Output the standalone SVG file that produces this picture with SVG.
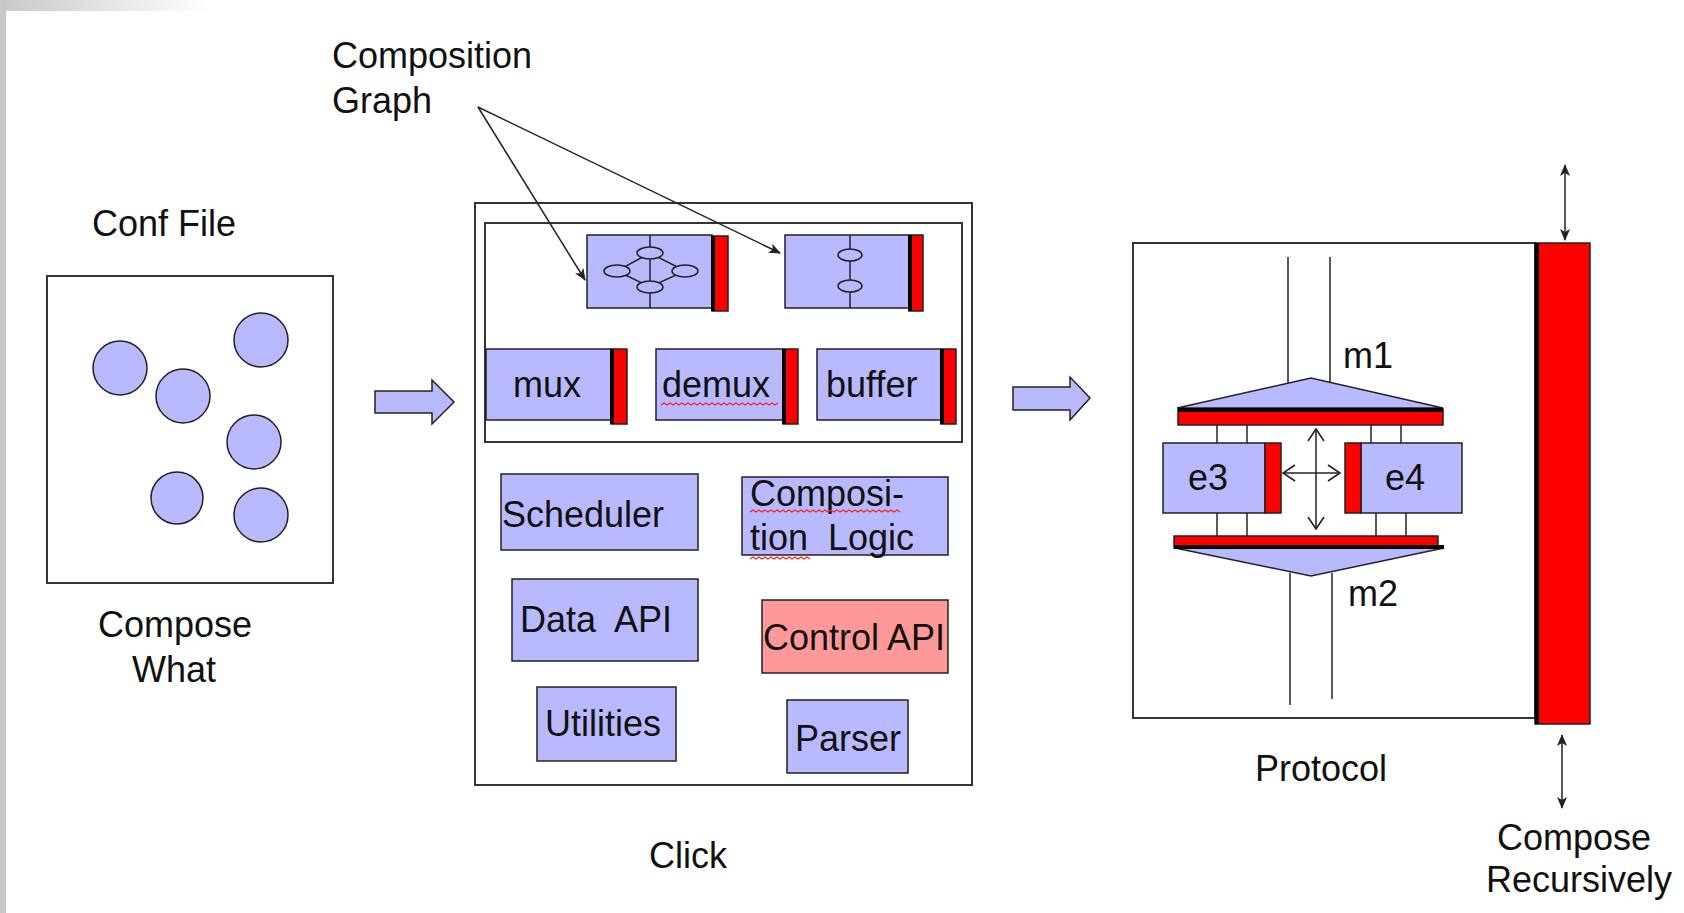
<svg xmlns="http://www.w3.org/2000/svg" width="1684" height="913" viewBox="0 0 1684 913">
<style>
text{font-family:"Liberation Sans",Arial,sans-serif;font-size:36px;fill:#111}
.pre{white-space:pre}
.frame{fill:#fff;stroke:#333;stroke-width:2}
.b{fill:#b9b9ff;stroke:#222;stroke-width:1.5}
.r{fill:#ff0000;stroke:#222;stroke-width:1.5}
.k{stroke:#000;stroke-width:4}
.ln{stroke:#222;stroke-width:1.5;fill:none}
.wavy{stroke:#ff2020;stroke-width:1.3;fill:none}
</style>
<defs>
<linearGradient id="topg" x1="0" y1="0" x2="1" y2="0">
<stop offset="0" stop-color="#c8c8c8"/>
<stop offset="1" stop-color="#ffffff"/>
</linearGradient>
<marker id="ah" markerWidth="12" markerHeight="10" refX="11" refY="5" orient="auto-start-reverse" markerUnits="userSpaceOnUse">
<path d="M0,0 L12,5 L0,10 L3,5 Z" fill="#222"/>
</marker>
<marker id="chev" markerWidth="14" markerHeight="18" refX="13" refY="9" orient="auto-start-reverse" markerUnits="userSpaceOnUse">
<path d="M1,1 L13,9 L1,17" fill="none" stroke="#222" stroke-width="1.6"/>
</marker>
</defs>
<rect x="0" y="0" width="1684" height="913" fill="#fff"/>
<rect x="0" y="0" width="210" height="11" fill="url(#topg)"/>
<rect x="0" y="0" width="6" height="913" fill="#c8c8c8"/>

<g id="conf-file">
<text x="92" y="236">Conf File</text>
<rect class="frame" x="47" y="276" width="286" height="307"/>
<circle class="b" cx="120" cy="368" r="27"/>
<circle class="b" cx="183" cy="396" r="27"/>
<circle class="b" cx="261" cy="340" r="27"/>
<circle class="b" cx="254" cy="442" r="27"/>
<circle class="b" cx="177" cy="498" r="26"/>
<circle class="b" cx="261" cy="515" r="27"/>
<text x="175" y="637" text-anchor="middle">Compose</text>
<text x="174" y="682" text-anchor="middle">What</text>
</g>

<g id="composition-graph-label">
<text x="332" y="68">Composition</text>
<text x="332" y="113">Graph</text>
</g>

<g id="click">
<rect class="frame" x="475" y="203" width="497" height="582"/>
<rect class="frame" x="485" y="223" width="477" height="219"/>
<g id="graph-a">
<rect class="b" x="587" y="235" width="125" height="73"/>
<rect class="r" x="712" y="236" width="16" height="75"/>
<line class="k" x1="713" y1="236" x2="713" y2="311"/>
<line class="ln" x1="650" y1="235" x2="650" y2="308"/>
<path class="ln" d="M650,253 L617,271 L650,287 L685,271 Z"/>
<ellipse class="b" cx="650" cy="253" rx="13" ry="6"/>
<ellipse class="b" cx="617" cy="271" rx="13" ry="6"/>
<ellipse class="b" cx="685" cy="271" rx="13" ry="6"/>
<ellipse class="b" cx="650" cy="287" rx="13" ry="6"/>
</g>
<g id="graph-b">
<rect class="b" x="785" y="235" width="124" height="73"/>
<rect class="r" x="909" y="235" width="14" height="76"/>
<line class="k" x1="910" y1="235" x2="910" y2="311"/>
<line class="ln" x1="850" y1="235" x2="850" y2="308"/>
<ellipse class="b" cx="850" cy="255" rx="12" ry="6"/>
<ellipse class="b" cx="850" cy="286" rx="12" ry="6"/>
</g>
<g id="mux">
<rect class="b" x="486" y="349" width="125" height="71"/>
<rect class="r" x="611" y="349" width="16" height="75"/>
<line class="k" x1="612" y1="349" x2="612" y2="424"/>
<text x="513" y="397">mux</text>
</g>
<g id="demux">
<rect class="b" x="656" y="349" width="127" height="71"/>
<rect class="r" x="783" y="349" width="15" height="75"/>
<line class="k" x1="784" y1="349" x2="784" y2="424"/>
<text x="662" y="397">demux</text>
<path class="wavy" d="M661,405 l3,-2 l3,2 l3,-2 l3,2 l3,-2 l3,2 l3,-2 l3,2 l3,-2 l3,2 l3,-2 l3,2 l3,-2 l3,2 l3,-2 l3,2 l3,-2 l3,2 l3,-2 l3,2 l3,-2 l3,2 l3,-2 l3,2 l3,-2 l3,2 l3,-2 l3,2 l3,-2 l3,2 l3,-2 l3,2 l3,-2 l3,2 l3,-2 l3,2 l3,-2 l3,2 l3,-2"/>
</g>
<g id="buffer">
<rect class="b" x="817" y="349" width="124" height="71"/>
<rect class="r" x="941" y="349" width="15" height="75"/>
<line class="k" x1="942" y1="349" x2="942" y2="424"/>
<text x="826" y="397">buffer</text>
</g>
<g id="scheduler">
<rect class="b" x="501" y="474" width="197" height="76"/>
<text x="502" y="527">Scheduler</text>
</g>
<g id="composition-logic">
<rect class="b" x="742" y="477" width="206" height="78"/>
<text x="750" y="506">Composi-</text>
<text class="pre" x="750" y="550">tion  Logic</text>
<path class="wavy" d="M750,512 l3,-2 l3,2 l3,-2 l3,2 l3,-2 l3,2 l3,-2 l3,2 l3,-2 l3,2 l3,-2 l3,2 l3,-2 l3,2 l3,-2 l3,2 l3,-2 l3,2 l3,-2 l3,2 l3,-2 l3,2 l3,-2 l3,2 l3,-2 l3,2 l3,-2 l3,2 l3,-2 l3,2 l3,-2 l3,2 l3,-2 l3,2 l3,-2 l3,2 l3,-2 l3,2 l3,-2 l3,2 l3,-2 l3,2 l3,-2 l3,2 l3,-2 l3,2 l3,-2 l3,2 l3,-2 l3,2"/>
<path class="wavy" d="M750,559 l3,-2 l3,2 l3,-2 l3,2 l3,-2 l3,2 l3,-2 l3,2 l3,-2 l3,2 l3,-2 l3,2 l3,-2 l3,2 l3,-2 l3,2 l3,-2 l3,2 l3,-2 l3,2"/>
</g>
<g id="data-api">
<rect class="b" x="512" y="579" width="186" height="82"/>
<text class="pre" x="520" y="632">Data  API</text>
</g>
<g id="control-api">
<rect x="762" y="600" width="186" height="73" fill="#ff9999" stroke="#222" stroke-width="1.5"/>
<text x="763" y="650">Control API</text>
</g>
<g id="utilities">
<rect class="b" x="537" y="687" width="139" height="74"/>
<text x="545" y="736">Utilities</text>
</g>
<g id="parser">
<rect class="b" x="787" y="700" width="121" height="73"/>
<text x="795" y="751">Parser</text>
</g>
<text x="649" y="868">Click</text>
</g>

<g id="protocol">
<rect class="frame" x="1133" y="243" width="402" height="475"/>
<rect class="r" x="1535" y="243" width="55" height="481"/>
<line class="k" x1="1537" y1="243" x2="1537" y2="724"/>
<line class="ln" x1="1288" y1="257" x2="1288" y2="384"/>
<line class="ln" x1="1330" y1="257" x2="1330" y2="384"/>
<text x="1343" y="368">m1</text>
<g id="m1">
<polygon class="b" points="1177,408 1311,378 1443,408"/>
<rect class="r" x="1178" y="409" width="265" height="16"/>
<line class="k" x1="1178" y1="410" x2="1443" y2="410"/>
</g>
<line class="ln" x1="1217" y1="425" x2="1217" y2="443"/>
<line class="ln" x1="1247" y1="425" x2="1247" y2="443"/>
<line class="ln" x1="1371" y1="425" x2="1371" y2="443"/>
<line class="ln" x1="1401" y1="425" x2="1401" y2="443"/>
<g id="e3">
<rect class="b" x="1163" y="443" width="102" height="70"/>
<rect class="r" x="1265" y="443" width="16" height="70"/>
<text x="1188" y="490">e3</text>
</g>
<g id="e4">
<rect class="b" x="1361" y="443" width="101" height="70"/>
<rect class="r" x="1345" y="443" width="16" height="70"/>
<text x="1385" y="490">e4</text>
</g>
<line class="ln" x1="1217" y1="513" x2="1217" y2="536"/>
<line class="ln" x1="1247" y1="513" x2="1247" y2="536"/>
<line class="ln" x1="1376" y1="513" x2="1376" y2="536"/>
<line class="ln" x1="1406" y1="513" x2="1406" y2="536"/>
<g id="m2">
<polygon class="b" points="1175,548 1311,576 1444,548"/>
<rect class="r" x="1174" y="536" width="264" height="12"/>
<line class="k" x1="1174" y1="547" x2="1444" y2="547"/>
</g>
<line class="ln" x1="1290" y1="573" x2="1290" y2="705"/>
<line class="ln" x1="1332" y1="573" x2="1332" y2="699"/>
<text x="1348" y="606">m2</text>
<text x="1255" y="781">Protocol</text>
<text x="1574" y="850" text-anchor="middle">Compose</text>
<text x="1579" y="892" text-anchor="middle">Recursively</text>
</g>

<g id="connectors">
<line class="ln" x1="478" y1="107" x2="585" y2="280" marker-end="url(#ah)"/>
<line class="ln" x1="478" y1="107" x2="780" y2="253" marker-end="url(#ah)"/>
<polygon class="b" points="375,391 432,391 432,380 454,402 432,424 432,413 375,413"/>
<polygon class="b" points="1013,387 1070,387 1070,377 1090,398 1070,420 1070,410 1013,410"/>
<line class="ln" x1="1283" y1="473" x2="1340" y2="473" marker-start="url(#chev)" marker-end="url(#chev)"/>
<line class="ln" x1="1316" y1="429" x2="1316" y2="529" marker-start="url(#chev)" marker-end="url(#chev)"/>
<line class="ln" x1="1565" y1="165" x2="1565" y2="240" marker-start="url(#ah)" marker-end="url(#ah)"/>
<line class="ln" x1="1562" y1="735" x2="1562" y2="808" marker-start="url(#ah)" marker-end="url(#ah)"/>
</g>
</svg>
